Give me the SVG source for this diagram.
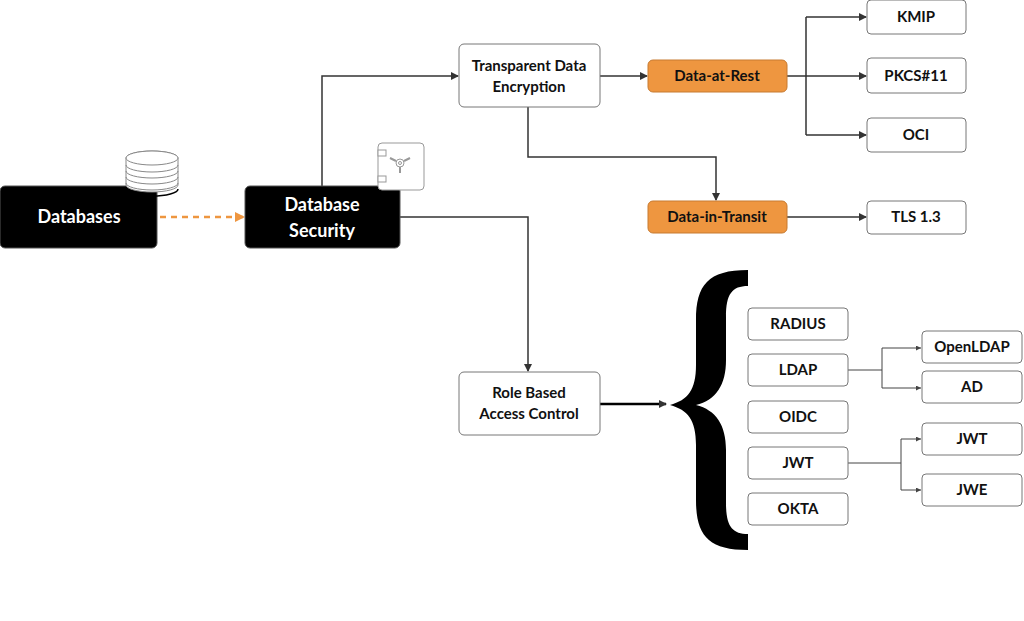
<svg xmlns="http://www.w3.org/2000/svg" width="1024" height="621" viewBox="0 0 1024 621">
<defs>
<style>
.b{fill:#fff;stroke:#777;stroke-width:1}
.k{fill:#000;stroke:#555;stroke-width:1}
.o{fill:#ee9640;stroke:#c77a30;stroke-width:1}
.t{font-family:"Lato","Liberation Sans",sans-serif;font-size:15px;font-weight:bold;fill:#111;text-anchor:middle}
.tw{font-family:"Lato","Liberation Sans",sans-serif;font-size:18px;font-weight:bold;fill:#fff;text-anchor:middle}
.c{fill:none;stroke:#333;stroke-width:1.5}
.c2{fill:none;stroke:#444;stroke-width:1}
</style>
<marker id="a" markerWidth="8" markerHeight="8" refX="7" refY="4" orient="auto" markerUnits="userSpaceOnUse"><path d="M0,0L8,4L0,8z" fill="#333"/></marker>
<marker id="s" markerWidth="5" markerHeight="5" refX="5" refY="2.5" orient="auto" markerUnits="userSpaceOnUse"><path d="M0,0L5,2.5L0,5z" fill="#444"/></marker>
<marker id="ao" markerWidth="10" markerHeight="10" refX="9" refY="5" orient="auto" markerUnits="userSpaceOnUse"><path d="M0,0L10,5L0,10z" fill="#ee9640"/></marker>
</defs>
<g id="connectors">
<line x1="160" y1="217" x2="244" y2="217" stroke="#ee9640" stroke-width="2.5" stroke-dasharray="6,5" marker-end="url(#ao)"/>
<path class="c" d="M322,186V76H458" marker-end="url(#a)"/>
<path class="c" d="M600,76H647" marker-end="url(#a)"/>
<path class="c" d="M787,76H806M806,17V135"/>
<path class="c" d="M806,17H866" marker-end="url(#a)"/>
<path class="c" d="M806,76H866" marker-end="url(#a)"/>
<path class="c" d="M806,135H866" marker-end="url(#a)"/>
<path class="c" d="M528,107V157H716V200" marker-end="url(#a)"/>
<path class="c" d="M787,217H866" marker-end="url(#a)"/>
<path class="c" d="M400,217H528V371" marker-end="url(#a)"/>
<path fill="none" stroke="#000" stroke-width="2.5" d="M600,404H666" marker-end="url(#a)"/>
<path class="c2" d="M848,370H882V348H921" marker-end="url(#s)"/>
<path class="c2" d="M882,370V388H921" marker-end="url(#s)"/>
<path class="c2" d="M848,463H901V439H921" marker-end="url(#s)"/>
<path class="c2" d="M901,463V490H921" marker-end="url(#s)"/>
</g>
<g id="brace"><path d="M748,270C708,270 696,285 696,320V365C696,390 688,400 670,405C688,410 696,420 696,445V500C696,535 708,550 748,550V534C732,534 726,526 726,503V450C726,425 716,410 696,405C716,400 726,385 726,360V317C726,294 732,286 748,286Z" fill="#000"/></g>
<g id="databases"><rect class="k" x="0" y="186" width="157" height="62" rx="5"/><text class="tw" x="79" y="223">Databases</text></g>
<g id="db-icon" fill="#fff" stroke="#888" stroke-width="1">
<path d="M126,185V158A26,7 0 0 1 178,158V185A26,7 0 0 1 126,185Z"/>
<ellipse cx="152" cy="158" rx="26" ry="7"/>
<path d="M126,165A26,7 0 0 0 178,165M126,171A26,7 0 0 0 178,171M126,177A26,7 0 0 0 178,177M126,183A26,7 0 0 0 178,183" fill="none"/>
<path d="M126,189A26,7 0 0 0 178,189" fill="none" stroke="#000" stroke-width="1.5"/>
</g>
<g id="database-security"><rect class="k" x="245" y="186" width="155" height="62" rx="5"/><text class="tw" x="322" y="211">Database</text><text class="tw" x="322" y="237">Security</text></g>
<g id="safe-icon" fill="#fff" stroke="#999" stroke-width="1">
<rect x="378" y="143" width="46" height="47" rx="4"/>
<rect x="378" y="150" width="8" height="6"/><rect x="378" y="176" width="8" height="6"/>
<circle cx="400" cy="163" r="4"/><circle cx="400" cy="163" r="1.5"/>
<path d="M396,161L390,158M404,161L410,158M400,167V173" stroke-width="2"/>
</g>
<g id="tde"><rect class="b" x="459" y="44" width="141" height="63" rx="5"/><text class="t" x="529" y="71">Transparent Data</text><text class="t" x="529" y="92">Encryption</text></g>
<g id="data-at-rest"><rect class="o" x="648" y="60" width="139" height="32" rx="5"/><text class="t" x="717" y="81">Data-at-Rest</text></g>
<g id="data-in-transit"><rect class="o" x="648" y="201" width="139" height="32" rx="5"/><text class="t" x="717" y="222">Data-in-Transit</text></g>
<g id="kmip"><rect class="b" x="867" y="0" width="99" height="34" rx="4"/><text class="t" x="916" y="22">KMIP</text></g>
<g id="pkcs"><rect class="b" x="867" y="58" width="99" height="35" rx="4"/><text class="t" x="916" y="81">PKCS#11</text></g>
<g id="oci"><rect class="b" x="867" y="118" width="99" height="34" rx="4"/><text class="t" x="916" y="140">OCI</text></g>
<g id="tls"><rect class="b" x="867" y="201" width="99" height="33" rx="4"/><text class="t" x="916" y="222">TLS 1.3</text></g>
<g id="rbac"><rect class="b" x="459" y="372" width="141" height="63" rx="5"/><text class="t" x="529" y="398">Role Based</text><text class="t" x="529" y="419">Access Control</text></g>
<g id="radius"><rect class="b" x="748" y="308" width="100" height="32" rx="4"/><text class="t" x="798" y="329">RADIUS</text></g>
<g id="ldap"><rect class="b" x="748" y="354" width="100" height="32" rx="4"/><text class="t" x="798" y="375">LDAP</text></g>
<g id="oidc"><rect class="b" x="748" y="401" width="100" height="32" rx="4"/><text class="t" x="798" y="422">OIDC</text></g>
<g id="jwt"><rect class="b" x="748" y="447" width="100" height="32" rx="4"/><text class="t" x="798" y="468">JWT</text></g>
<g id="okta"><rect class="b" x="748" y="493" width="100" height="32" rx="4"/><text class="t" x="798" y="514">OKTA</text></g>
<g id="openldap"><rect class="b" x="922" y="331" width="100" height="32" rx="4"/><text class="t" x="972" y="352">OpenLDAP</text></g>
<g id="ad"><rect class="b" x="922" y="371" width="100" height="32" rx="4"/><text class="t" x="972" y="392">AD</text></g>
<g id="jwt2"><rect class="b" x="922" y="423" width="100" height="32" rx="4"/><text class="t" x="972" y="444">JWT</text></g>
<g id="jwe"><rect class="b" x="922" y="474" width="100" height="32" rx="4"/><text class="t" x="972" y="495">JWE</text></g>
</svg>
